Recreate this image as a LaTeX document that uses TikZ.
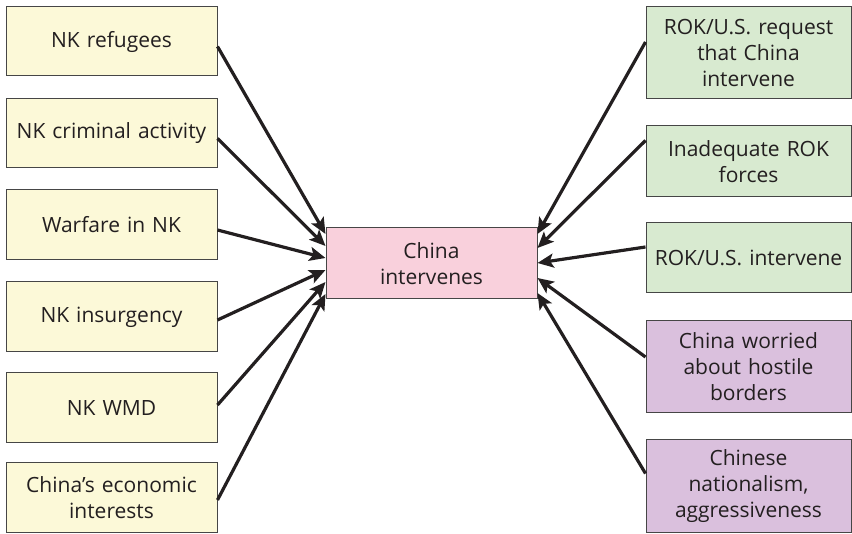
\documentclass[tikz,border=0pt]{standalone}
\usepackage{fontspec}
\setmainfont{Open Sans}
\usetikzlibrary{arrows.meta}
\definecolor{ink}{RGB}{35,31,32}
\definecolor{boxline}{RGB}{70,70,70}
\definecolor{fillY}{RGB}{252,249,216}
\definecolor{fillG}{RGB}{216,234,208}
\definecolor{fillP}{RGB}{249,208,220}
\definecolor{fillV}{RGB}{218,192,221}
\begin{document}
\begin{tikzpicture}[x=1pt,y=-1pt,
  box/.style={draw=boxline, line width=1pt, text=ink, align=center,
    inner sep=0pt, font=\fontsize{21}{26}\selectfont},
  lbox/.style={box, fill=fillY, minimum width=211pt, text width=208pt},
  gbox/.style={box, fill=fillG, minimum width=205pt, text width=203pt},
  vbox/.style={box, fill=fillV, minimum width=205pt, text width=203pt},
  cbox/.style={box, fill=fillP, minimum width=211pt, minimum height=71pt, text width=205pt},
  arr/.style={draw=ink, line width=3.2pt, -{Stealth[length=16pt,width=14pt,inset=3.5pt]}}]
\useasboundingbox (0,0) rectangle (852,534);

% central outcome
\node[cbox] (c) at (431.5,263.5) {China\\intervenes};

% factors on the left
\node[lbox, minimum height=69pt] (l1) at (111.5,41.5) {NK refugees};
\node[lbox, minimum height=69pt] (l2) at (111.5,133.5) {NK criminal activity};
\node[lbox, minimum height=70pt] (l3) at (111.5,225) {Warfare in NK};
\node[lbox, minimum height=70pt] (l4) at (111.5,317) {NK insurgency};
\node[lbox, minimum height=70pt] (l5) at (111.5,408) {NK WMD};
\node[lbox, minimum height=70pt] (l6) at (111.5,498) {China’s economic\\interests};

% factors on the right
\node[gbox, minimum height=92pt] (r1) at (748.5,53) {ROK/U.S. request\\that China\\intervene};
\node[gbox, minimum height=71pt] (r2) at (748.5,161.5) {Inadequate ROK\\forces};
\node[gbox, minimum height=70pt] (r3) at (748.5,258) {ROK/U.S. intervene};
\node[vbox, minimum height=92pt] (r4) at (748.5,367) {China worried\\about hostile\\borders};
\node[vbox, minimum height=93pt] (r5) at (748.5,486.5) {Chinese\\nationalism,\\aggressiveness};

% connectors into the central box
\draw[arr] ([yshift=-5pt]l1.east) -- ([yshift=29.5pt]c.west);
\draw[arr] ([yshift=-5pt]l2.east) -- ([yshift=17.5pt]c.west);
\draw[arr] ([yshift=-5pt]l3.east) -- ([yshift=5.5pt]c.west);
\draw[arr] ([yshift=-3pt]l4.east) -- ([yshift=-6.5pt]c.west);
\draw[arr] ([yshift=3pt]l5.east) -- ([yshift=-18.5pt]c.west);
\draw[arr] ([yshift=-2pt]l6.east) -- ([yshift=-30.5pt]c.west);

\draw[arr] ([yshift=11pt]r1.west) -- ([yshift=29.5pt]c.east);
\draw[arr] ([yshift=21pt]r2.west) -- ([yshift=15.5pt]c.east);
\draw[arr] ([yshift=11pt]r3.west) -- ([yshift=0.5pt]c.east);
\draw[arr] ([yshift=10pt]r4.west) -- ([yshift=-14.5pt]c.east);
\draw[arr] ([yshift=13pt]r5.west) -- ([yshift=-29.5pt]c.east);
\end{tikzpicture}
\end{document}
